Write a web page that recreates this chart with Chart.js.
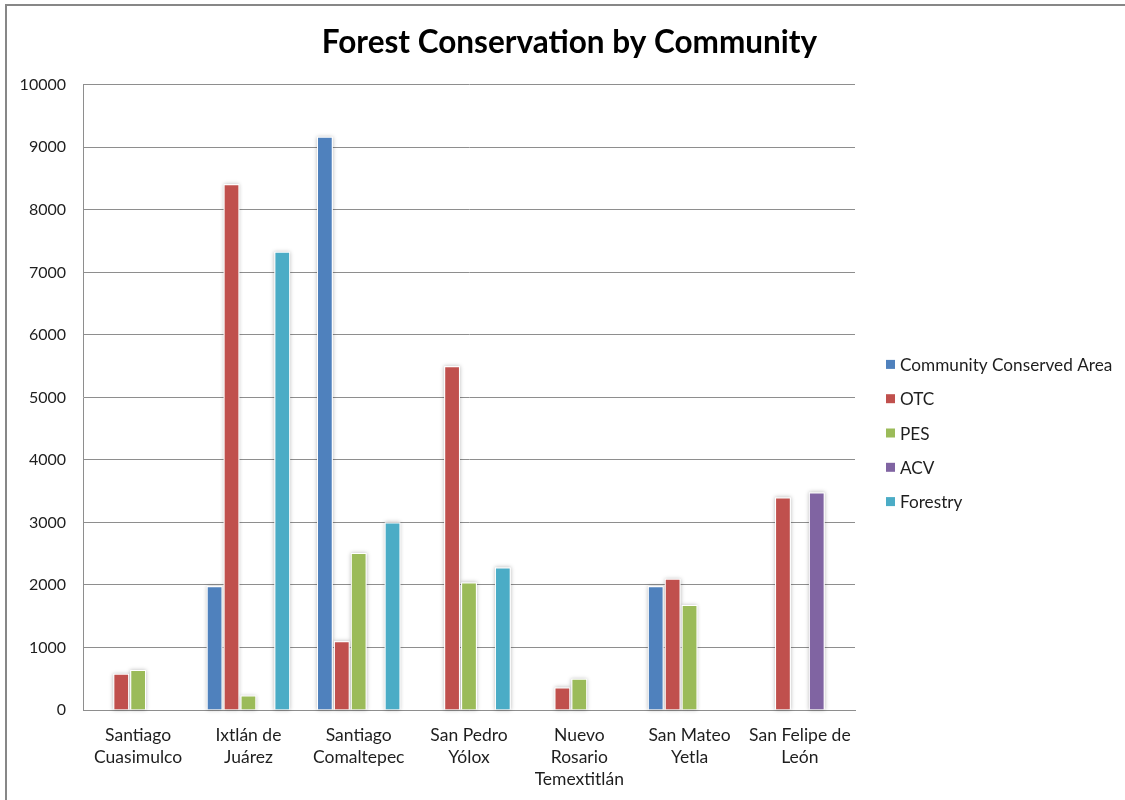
<!DOCTYPE html>
<html>
<head>
<meta charset="utf-8">
<title>Forest Conservation by Community</title>
<script src="https://cdn.jsdelivr.net/npm/chart.js@4.4.1/dist/chart.umd.min.js"></script>
<style>
  html, body { margin: 0; padding: 0; background: #fff; }
</style>
</head>
<body>
<canvas id="chart" width="1125" height="800"></canvas>
<script>
// Communities (multi-line labels) and hectares per program
const communities = [
    ["Santiago", "Cuasimulco"],
    ["Ixtlán de", "Juárez"],
    ["Santiago", "Comaltepec"],
    ["San Pedro", "Yólox"],
    ["Nuevo", "Rosario", "Temextitlán"],
    ["San Mateo", "Yetla"],
    ["San Felipe de", "León"]
];
const seriesNames = ["Community Conserved Area", "OTC", "PES", "ACV", "Forestry"];
const seriesColors = ["#4F81BD", "#C0504D", "#9BBB59", "#8064A2", "#4BACC6"];

const communityConserved = [null, 1980, 9170, null, null, 1980, null];
const otc = [580, 8410, 1100, 5500, 360, 2100, 3400];
const pes = [640, 230, 2510, 2040, 500, 1680, null];
const acv = [null, null, null, null, null, null, 3480];
const forestry = [null, 7330, 3000, 2280, null, null, null];

const yMin = 0;
const yMax = 10000;
const yStep = 1000;

const FONT = "Lato, 'Open Sans', sans-serif";
const TEXT = "#1e1e1e";
const GRID = "#8e8e8e";

const seriesValues = [communityConserved, otc, pes, acv, forestry];

// white page with the grey frame on top and left
const framePlugin = {
    id: "frame",
    beforeDraw(chart) {
        const c = chart.ctx;
        c.save();
        c.fillStyle = "#fff";
        c.fillRect(0, 0, chart.width, chart.height);
        c.strokeStyle = "#878787";
        c.lineWidth = 2;
        c.beginPath();
        c.moveTo(6, chart.height);
        c.lineTo(6, 5);
        c.lineTo(chart.width, 5);
        c.stroke();
        c.restore();
    }
};

// soft halo behind each bar
const barShadow = {
    id: "barShadow",
    beforeDatasetsDraw(chart) {
        const c = chart.ctx;
        c.save();
        c.shadowColor = "rgba(0,0,0,0.28)";
        c.shadowBlur = 4;
        c.fillStyle = "#fff";
        chart.data.datasets.forEach((ds, i) => {
            chart.getDatasetMeta(i).data.forEach((bar, j) => {
                if (ds.data[j] == null) return;
                const p = bar.getProps(["x", "y", "base", "width"], true);
                c.fillRect(p.x - p.width / 2, p.y, p.width, p.base - p.y);
            });
        });
        c.restore();
    }
};

// legend at the right, Excel style
const sideLegend = {
    id: "sideLegend",
    afterDraw(chart) {
        const c = chart.ctx;
        const x = chart.chartArea.right + 31;
        const gap = 34.3;
        const n = chart.data.datasets.length;
        const top = 433 - gap * (n - 1) / 2;
        c.save();
        c.font = "17.2px " + FONT;
        c.textBaseline = "middle";
        chart.data.datasets.forEach((ds, i) => {
            const y = top + i * gap;
            c.fillStyle = ds.backgroundColor;
            c.fillRect(x, y - 4.5, 9, 9);
            c.fillStyle = TEXT;
            c.fillText(ds.label, x + 14, y + 1);
        });
        c.restore();
    }
};

new Chart(document.getElementById("chart"), {
    type: "bar",
    data: {
        labels: communities,
        datasets: seriesNames.map((name, i) => ({
            label: name,
            data: seriesValues[i],
            backgroundColor: seriesColors[i],
            borderColor: "#ffffff",
            borderWidth: 1,
            categoryPercentage: 0.767,
            barPercentage: 0.93
        }))
    },
    options: {
        responsive: false,
        animation: false,
        devicePixelRatio: 1,
        layout: { padding: { left: 14, right: 0, top: 0, bottom: 0 } },
        plugins: {
            legend: { display: false },
            tooltip: { enabled: false },
            title: {
                display: true,
                text: "Forest Conservation by Community",
                color: "#000",
                font: { family: FONT, size: 31.5, weight: "bold", lineHeight: 1.2 },
                padding: { top: 24, bottom: 23 }
            }
        },
        scales: {
            x: {
                grid: { display: false, drawTicks: false },
                border: { display: true, color: GRID, width: 1 },
                ticks: {
                    color: TEXT,
                    font: { family: FONT, size: 17.5, lineHeight: 1.257 },
                    maxRotation: 0,
                    autoSkip: false,
                    padding: 14
                },
                afterFit(s) { s.height = 90; }
            },
            y: {
                min: yMin,
                max: yMax,
                grid: { color: GRID, lineWidth: 1, drawTicks: false },
                border: { display: true, color: GRID, width: 1 },
                ticks: {
                    stepSize: yStep,
                    color: TEXT,
                    font: { family: FONT, size: 16 },
                    padding: 17,
                    callback: v => String(v)
                },
                afterFit(s) { s.width = 69; }
            },
            // empty axis that keeps room for the legend
            side: {
                position: "right",
                display: true,
                grid: { display: false, drawTicks: false },
                border: { display: false },
                ticks: { display: false },
                afterFit(s) { s.width = 270; }
            }
        }
    },
    plugins: [framePlugin, barShadow, sideLegend]
});
</script>
</body>
</html>
